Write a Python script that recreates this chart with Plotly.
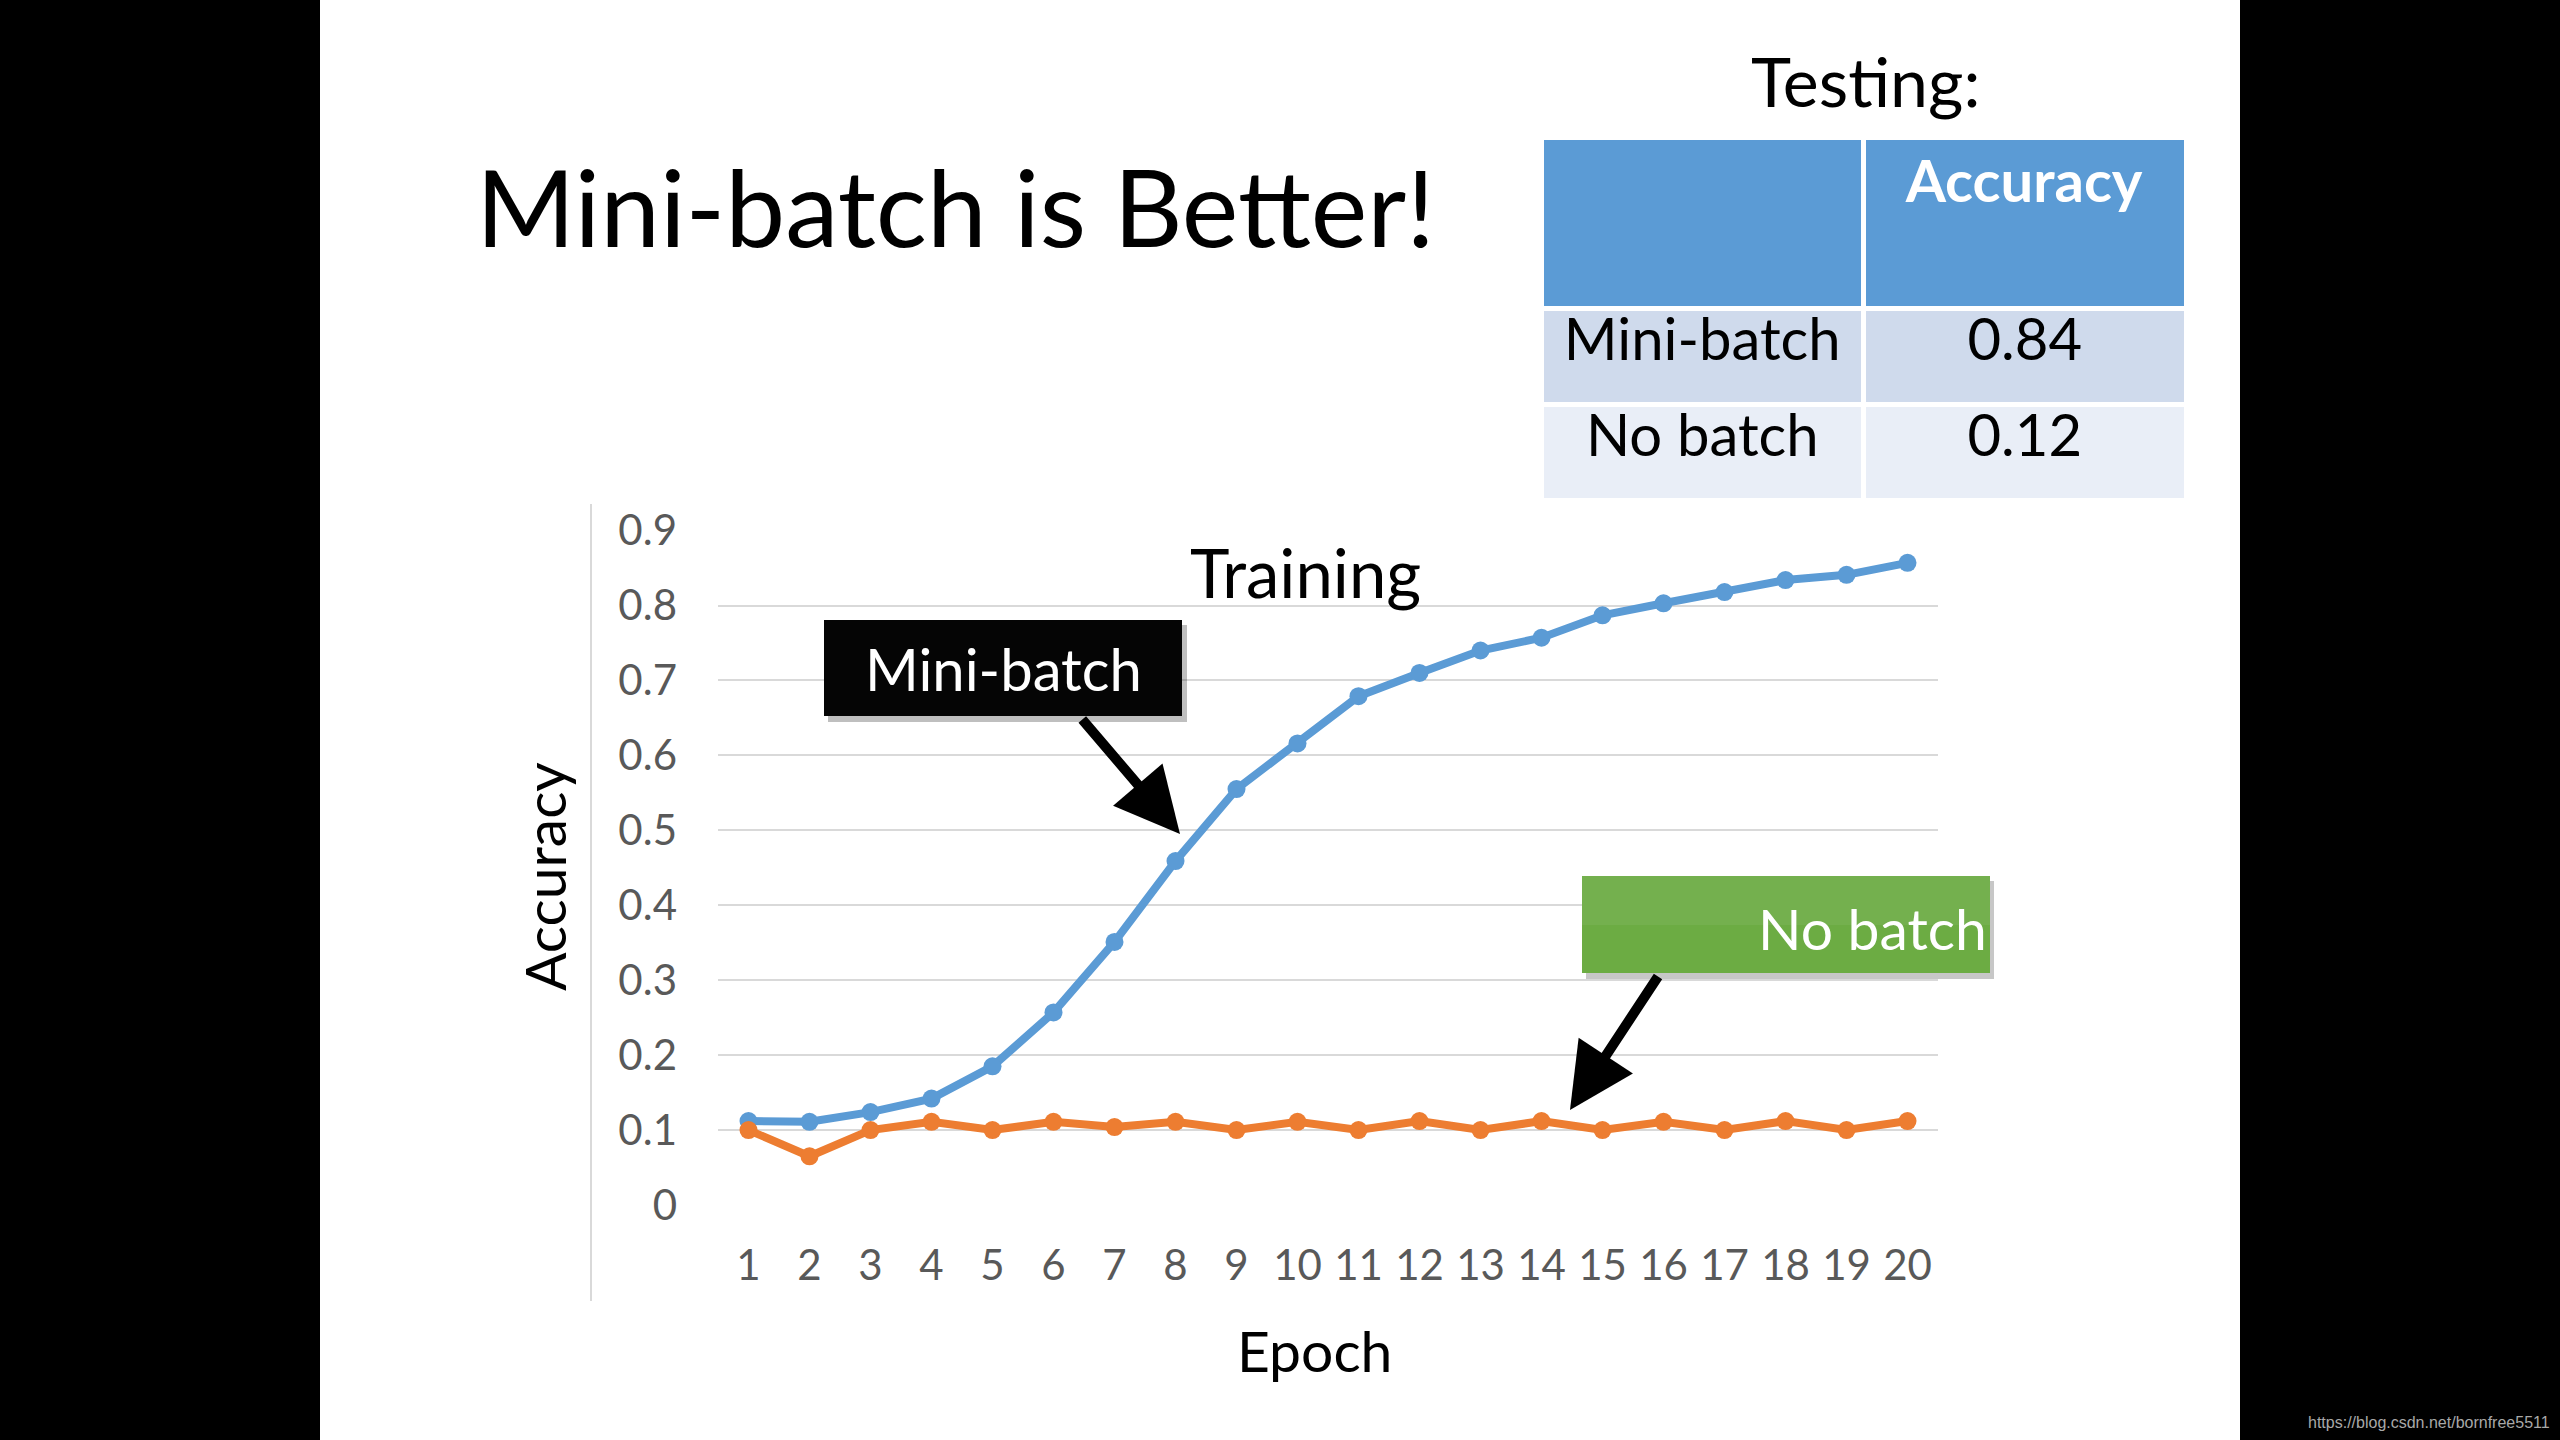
import plotly.graph_objects as go

# ---------------- data ----------------
epochs = [str(i) for i in range(1, 21)]
mini_batch = [0.112, 0.111, 0.124, 0.142, 0.185, 0.257, 0.351, 0.459, 0.555, 0.616,
              0.679, 0.710, 0.740, 0.757, 0.787, 0.803, 0.818, 0.834, 0.841, 0.857]
no_batch = [0.100, 0.065, 0.100, 0.111, 0.100, 0.111, 0.104, 0.111, 0.100, 0.111,
            0.100, 0.112, 0.100, 0.112, 0.100, 0.111, 0.100, 0.112, 0.100, 0.112]
y_ticks = [0, 0.1, 0.2, 0.3, 0.4, 0.5, 0.6, 0.7, 0.8, 0.9]
y_tick_labels = ["0", "0.1", "0.2", "0.3", "0.4", "0.5", "0.6", "0.7", "0.8", "0.9"]
table_methods = ["Mini-batch", "No batch"]
table_accuracy = ["0.84", "0.12"]

W, H = 2560, 1440
FONT = "Lato, sans-serif"


def px(x):
    return x / W


def py(y):
    return 1 - y / H


BLUE = "#5B9BD5"
ORANGE = "#ED7D31"

fig = go.Figure()

fig.add_trace(go.Scatter(
    x=epochs, y=mini_batch, mode="lines+markers", name="Mini-batch",
    line=dict(color=BLUE, width=8), marker=dict(color=BLUE, size=18),
    cliponaxis=False, showlegend=False))
fig.add_trace(go.Scatter(
    x=epochs, y=no_batch, mode="lines+markers", name="No batch",
    line=dict(color=ORANGE, width=8), marker=dict(color=ORANGE, size=18),
    cliponaxis=False, showlegend=False))

# Testing table
fig.add_trace(go.Table(
    domain=dict(x=[px(1541), px(2186)], y=[py(499), py(137)]),
    columnwidth=[1, 1],
    header=dict(values=["", "<b>Accuracy</b>"],
                fill_color="#5B9BD5",
                line=dict(color="white", width=5),
                font=dict(family=FONT, size=58, color="white"),
                align="center", height=171),
    cells=dict(values=[table_methods, table_accuracy],
               fill_color=[["#CFDAEC", "#E9EEF7"]] * 2,
               line=dict(color="white", width=5),
               font=dict(family=FONT, size=58, color="black"),
               align="center", height=96),
))

shapes = [
    # white slide
    dict(type="rect", xref="paper", yref="paper", x0=px(320), x1=px(2240), y0=0, y1=1,
         fillcolor="white", line=dict(width=0), layer="below"),
    # chart-area left border
    dict(type="line", xref="paper", yref="paper", x0=px(591), x1=px(591),
         y0=py(504), y1=py(1301), line=dict(color="#D9D9D9", width=2), layer="below"),
    # Mini-batch label box shadow + box
    dict(type="rect", xref="paper", yref="paper", x0=px(828), x1=px(1187),
         y0=py(722), y1=py(625), fillcolor="rgba(0,0,0,0.25)", line=dict(width=0)),
    dict(type="rect", xref="paper", yref="paper", x0=px(824), x1=px(1182),
         y0=py(716), y1=py(620), fillcolor="#050505", line=dict(width=0)),
    # No batch label box shadow + box
    dict(type="rect", xref="paper", yref="paper", x0=px(1586), x1=px(1994),
         y0=py(979), y1=py(881), fillcolor="rgba(0,0,0,0.22)", line=dict(width=0)),
    dict(type="rect", xref="paper", yref="paper", x0=px(1582), x1=px(1990),
         y0=py(973), y1=py(876), fillcolor="#6CAC43", line=dict(width=0)),
    dict(type="rect", xref="paper", yref="paper", x0=px(1582), x1=px(1990),
         y0=py(925), y1=py(876), fillcolor="rgba(255,255,255,0.06)", line=dict(width=0)),
]

annotations = [
    dict(text="Mini-batch is Better!", x=px(474), y=py(206), xanchor="left", yanchor="middle",
         font=dict(family=FONT, size=107, color="black")),
    dict(text="Testing:", x=px(1865), y=py(80), xanchor="center", yanchor="middle",
         font=dict(family=FONT, size=68, color="black")),
    dict(text="Training", x=px(1305), y=py(572), xanchor="center", yanchor="middle",
         font=dict(family=FONT, size=67, color="black")),
    dict(text="Epoch", x=px(1314), y=py(1350), xanchor="center", yanchor="middle",
         font=dict(family=FONT, size=57, color="black")),
    dict(text="Accuracy", x=px(544), y=py(877), xanchor="center", yanchor="middle", textangle=-90,
         font=dict(family=FONT, size=57, color="black")),
    dict(text="Mini-batch", x=px(1003), y=py(668), xanchor="center", yanchor="middle",
         font=dict(family=FONT, size=58, color="white")),
    dict(text="No batch", x=px(1989), y=py(928), xanchor="right", yanchor="middle",
         font=dict(family=FONT, size=57, color="white")),
    # arrows
    dict(text="", x=px(1180), y=py(834), ax=1081 - 1180, ay=718 - 834,
         showarrow=True, arrowhead=2, arrowsize=1.3, arrowwidth=10, arrowcolor="black",
         axref="pixel", ayref="pixel"),
    dict(text="", x=px(1570), y=py(1110), ax=1659 - 1570, ay=975 - 1110,
         showarrow=True, arrowhead=2, arrowsize=1.3, arrowwidth=10, arrowcolor="black",
         axref="pixel", ayref="pixel"),
    dict(text="https://blog.csdn.net/bornfree5511", x=px(2552), y=py(1422),
         xanchor="right", yanchor="middle",
         font=dict(family="Liberation Sans, Arial, sans-serif", size=16, color="#A8A8A8")),
]
for a in annotations:
    a.setdefault("xref", "paper")
    a.setdefault("yref", "paper")
    a.setdefault("showarrow", False)

fig.update_layout(
    width=W, height=H, autosize=False,
    margin=dict(l=0, r=0, t=0, b=0, pad=0, autoexpand=False),
    paper_bgcolor="black", plot_bgcolor="rgba(0,0,0,0)",
    shapes=shapes, annotations=annotations,
    xaxis=dict(domain=[px(718), px(1938)], type="category", range=[-0.5, 19.5],
               showgrid=False, zeroline=False, showline=False, ticks="", automargin=False,
               tickfont=dict(family=FONT, size=42, color="#595959"),
               ticklabelstandoff=32),
    yaxis=dict(domain=[py(1205), py(530.6)], range=[0, 0.9],
               tickvals=y_ticks, ticktext=y_tick_labels, automargin=False,
               showgrid=True, gridcolor="#D9D9D9", gridwidth=2,
               zeroline=False, showline=False, ticks="",
               tickfont=dict(family=FONT, size=42, color="#595959"),
               ticklabelstandoff=40),
)

fig.write_html("out.html")
